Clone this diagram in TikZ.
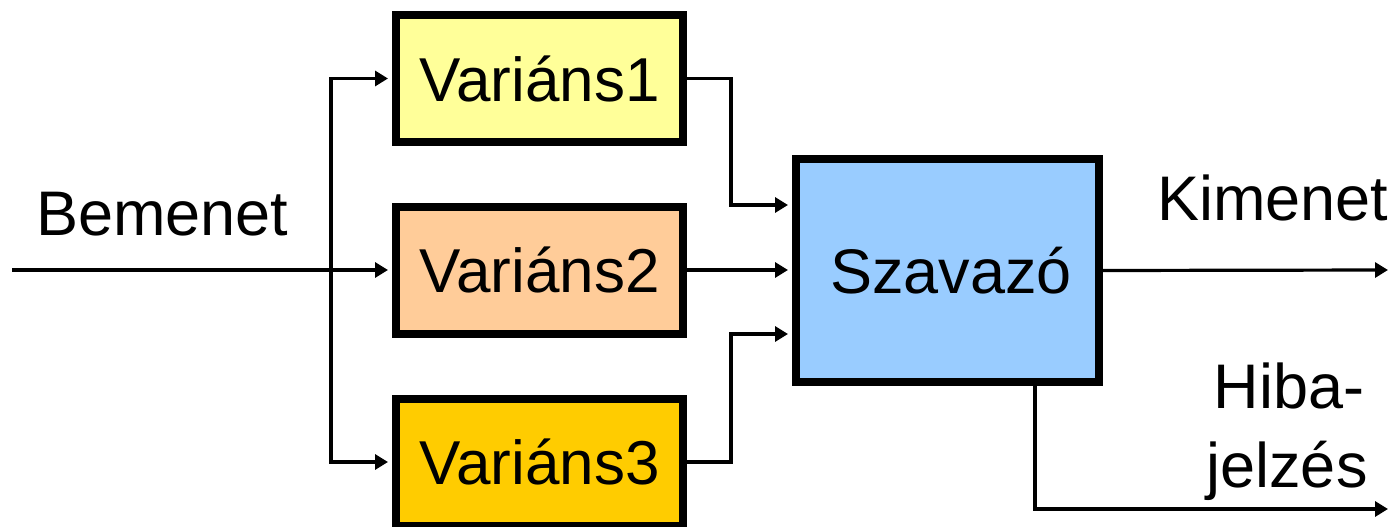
\documentclass[tikz,border=0pt]{standalone}
\usepackage{fontspec}
\setmainfont{Liberation Sans}
\usetikzlibrary{arrows.meta}
\definecolor{cVone}{HTML}{FFFF99}
\definecolor{cVtwo}{HTML}{FFCC99}
\definecolor{cVthree}{HTML}{FFCC00}
\definecolor{cSz}{HTML}{99CCFF}
\tikzset{
  varbox/.style={draw=black, line width=8pt, minimum width=287pt, minimum height=127pt,
    inner sep=0pt, font=\fontsize{62}{74}\selectfont},
  votebox/.style={draw=black, line width=8pt, minimum width=303pt, minimum height=223pt,
    inner sep=0pt, font=\fontsize{63}{75}\selectfont},
  conn/.style={line width=3.2pt},
  arr/.style={conn, -{Triangle[length=13pt,width=15pt]}},
  lbl/.style={font=\fontsize{63}{75}\selectfont, inner sep=0pt}
}
\begin{document}
\begin{tikzpicture}[x=1pt,y=-1pt]
\useasboundingbox[fill=white] (0,0) rectangle (1393,527);
\node[varbox, fill=cVone]   (v1) at (539.5,78.5) {Variáns1};
\node[varbox, fill=cVtwo]   (v2) at (539.5,270) {Variáns2};
\node[varbox, fill=cVthree] (v3) at (539.5,462) {Variáns3};
\node[votebox, fill=cSz]    (sz) at (947.5,270.5) {\hspace{7pt}Szavazó};

\coordinate (in) at (12,270);
\coordinate (sp) at (331,270);
\coordinate (j1) at (731,205);
\coordinate (j3) at (731,334);
\coordinate (out) at (1388,270);
\coordinate (err) at (1035,509);
\coordinate (errout) at (1388,509);

\draw[arr, shorten >=4pt] (in) -- (v2.west);
\draw[arr, shorten >=4pt] (sp) |- (v1.west);
\draw[arr, shorten >=4pt] (sp) |- (v3.west);
\draw[arr, shorten >=4pt] (v1.east) -| (j1) -- (j1 -| sz.west);
\draw[arr, shorten >=4pt] (v2.east) -- (v2.east -| sz.west);
\draw[arr, shorten >=4pt] (v3.east) -| (j3) -- (j3 -| sz.west);
\draw[arr] (sz.east) -- (out);
\draw[arr] (err |- sz.south) -- (err) -- (errout);

\node[lbl, anchor=base west] (bemenet) at (36,235) {Bemenet};
\node[lbl, anchor=base west] (kimenet) at (1157,220) {Kimenet};
\node[lbl, anchor=base] (hiba) at (1289,408) {Hiba-};
\node[lbl, anchor=base] (jelzes) at (1287,487) {jelzés};
\end{tikzpicture}
\end{document}
